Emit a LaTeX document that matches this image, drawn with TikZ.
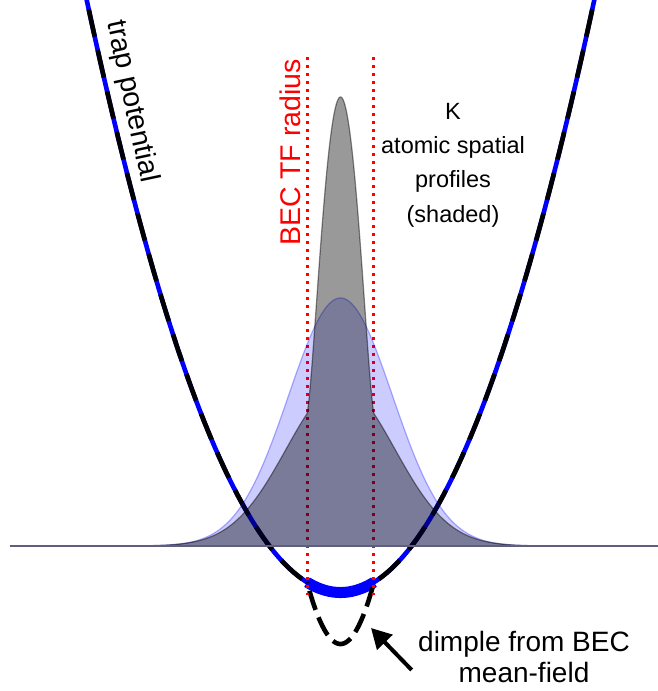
\documentclass[tikz,border=0pt]{standalone}
\usepackage{fontspec}
\setmainfont{Liberation Sans}
\usetikzlibrary{arrows.meta}
\definecolor{basec}{RGB}{95,95,125}
\begin{document}
\begin{tikzpicture}[x=1pt,y=-1pt,
  trapsolid/.style={blue, line width=4.6pt, line join=round},
  trapdash/.style={black, line width=4.6pt, line join=round, dash pattern=on 28pt off 14pt},
  dimpledash/.style={black, line width=4.6pt, line join=round, dash pattern=on 20pt off 8pt, dash phase=19pt},
  tfline/.style={red, line width=3pt, dash pattern=on 3pt off 5pt},
  thermal/.style={fill=blue, fill opacity=0.2, draw=blue, draw opacity=0.3, line width=1.2pt},
  profile/.style={fill=black, fill opacity=0.4, draw=black, draw opacity=0.45, line width=1.2pt},
  lbl/.style={font=\fontsize{23.5}{34.3}\selectfont, align=center},
  vlbl/.style={font=\fontsize{28.5}{34}\selectfont, anchor=base}
]
\useasboundingbox (0,0) rectangle (658,691);
\clip (0,0) rectangle (658,691);

% trap potential: blue solid
\draw[trapsolid] plot[domain=80:601, samples=140] (\x, {592.5-92*((\x-340.5)/100)^2});
\draw[blue, line width=11pt] plot[domain=307:374, samples=40] (\x, {592.5-92*((\x-340.5)/100)^2});
% effective potential: black dashed arms
\draw[trapdash] plot[domain=80:307, samples=90] (\x, {592.5-92*((\x-340.5)/100)^2});
\draw[trapdash] plot[domain=601:374, samples=90] (\x, {592.5-92*((\x-340.5)/100)^2});
% dimple from BEC mean-field
\draw[dimpledash] plot[domain=307:374, samples=50] (\x, {644-550.9*((\x-340.5)/100)^2});

% TF radius lines
\coordinate (tfLtop) at (307,57);
\coordinate (tfLbot) at (307,595);
\coordinate (tfRtop) at (373,57);
\coordinate (tfRbot) at (373,595);
\draw[tfline] (tfLtop) -- (tfLbot);
\draw[tfline] (tfRtop) -- (tfRbot);

% thermal K profile (blue)
\path[thermal] (10,546) -- plot[domain=40:641, samples=200] (\x, {546-248*exp(max(-9,-((\x-340.5)/100)^2/0.54))}) -- (658,546) -- cycle;

% K profile with BEC (gray)
\path[profile] (10,546)
  -- plot[domain=40:307, samples=100] (\x, {546-160*exp(max(-9,-((\x-340.5)/100)^2/0.59))})
  -- plot[domain=307:374, samples=90] (\x, {546-160*exp(-((\x-340.5)/100)^2/0.59)-289*max(0,1-((\x-340.5)/33.5)^2)*sqrt(max(0,1-((\x-340.5)/33.5)^2))})
  -- plot[domain=374:641, samples=100] (\x, {546-160*exp(max(-9,-((\x-340.5)/100)^2/0.59))})
  -- (658,546) -- cycle;

% baseline
\coordinate (bl) at (10,546);
\coordinate (br) at (658,546);
\draw[basec, line width=1.8pt] (bl) -- (br);

% labels
\node[vlbl, rotate=-78] (trap) at (124.5,103) {trap potential};
\node[vlbl, rotate=90, text=red] (tf) at (300.5,152.5) {BEC TF radius};
\node[lbl, anchor=base] (prof) at (453,222) {K\\atomic spatial\\profiles\\(shaded)};
\node[font=\fontsize{28}{31}\selectfont, align=center, anchor=base] (dimple) at (524,682) {dimple from BEC\\mean-field};

% arrow
\coordinate (arrtail) at (411.7,670);
\coordinate (arrtip) at (371,628);
\draw[-{Triangle[length=20pt,width=21pt]}, line width=4pt] (arrtail) -- (arrtip);
\end{tikzpicture}
\end{document}
